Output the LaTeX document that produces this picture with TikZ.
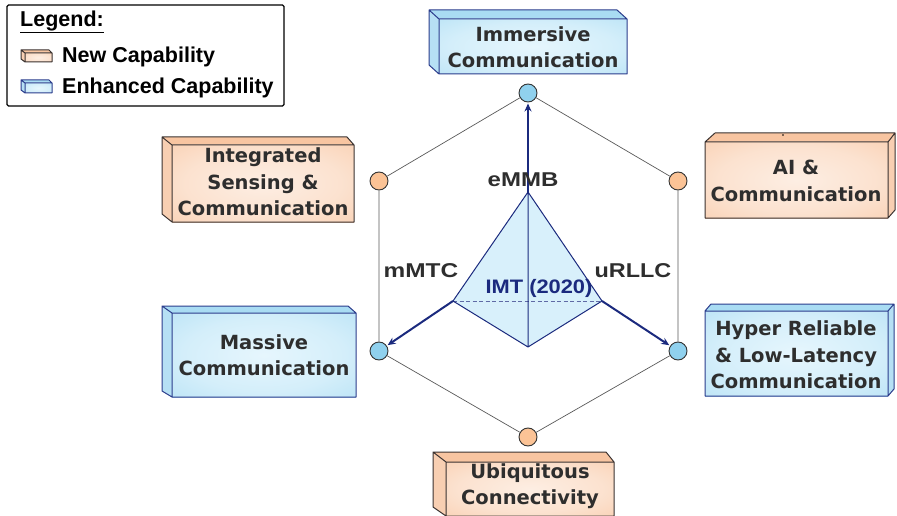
\documentclass[tikz,border=0pt]{standalone}
\usepackage{fontspec}
\usepackage{graphicx}
\setmainfont{Liberation Sans}
\newfontfamily\boxfont{DejaVu Sans}
\usetikzlibrary{arrows.meta}

\definecolor{navy}{HTML}{1B2A7E}
\definecolor{txtgray}{HTML}{2E2E2E}
\definecolor{bluefill}{HTML}{A9DCF3}
\definecolor{bluelight}{HTML}{E6F6FD}
\definecolor{blueside}{HTML}{B6E0F4}
\definecolor{blueedge}{HTML}{2B3C8C}
\definecolor{orangefill}{HTML}{F8C5A1}
\definecolor{orangelight}{HTML}{FDEEE3}
\definecolor{orangeside}{HTML}{F8CFB2}
\definecolor{orangeedge}{HTML}{3A3230}
\definecolor{pyrfill}{HTML}{D8F0FB}
\definecolor{circblue}{HTML}{90D1EE}
\definecolor{circorange}{HTML}{FBC396}

% soft radial glow for the box faces
\pgfdeclareradialshading{blueglow}{\pgfpoint{0bp}{0bp}}{%
  color(0bp)=(bluelight); color(22bp)=(bluelight!70!bluefill);
  color(50bp)=(bluefill); color(75bp)=(bluefill)}
\pgfdeclareradialshading{orangeglow}{\pgfpoint{0bp}{0bp}}{%
  color(0bp)=(orangelight); color(22bp)=(orangelight!70!orangefill);
  color(50bp)=(orangefill); color(75bp)=(orangefill)}

% box with depth towards the upper left: front (x1,y1)-(x2,y2), back (bx1,by1)-(bx2,by2)
\newcommand{\capboxL}[9]{%
  \fill[#1fill] (#2,#3) -- (#6,#7) -- (#8,#7) -- (#4,#3) -- cycle;
  \fill[#1side] (#2,#3) -- (#6,#7) -- (#6,#9) -- (#2,#5) -- cycle;
  \shade[shading=#1glow] (#2,#3) rectangle (#4,#5);
  \draw[#1edge, boxline] (#2,#3) -- (#6,#7) -- (#8,#7) -- (#4,#3)
    (#6,#7) -- (#6,#9) -- (#2,#5) (#2,#3) rectangle (#4,#5);
}
% box with depth towards the upper right
\newcommand{\capboxR}[9]{%
  \fill[#1fill] (#2,#3) -- (#6,#7) -- (#8,#7) -- (#4,#3) -- cycle;
  \fill[#1side] (#4,#3) -- (#8,#7) -- (#8,#9) -- (#4,#5) -- cycle;
  \shade[shading=#1glow] (#2,#3) rectangle (#4,#5);
  \draw[#1edge, boxline] (#2,#3) -- (#6,#7) -- (#8,#7) -- (#4,#3)
    (#8,#7) -- (#8,#9) -- (#4,#5) (#2,#3) rectangle (#4,#5);
}

\tikzset{
  boxline/.style={line width=1pt, line join=round},
  boxtext/.style={text=txtgray, align=center, inner sep=0pt,
    font=\boxfont\bfseries\fontsize{19.5}{26.5}\selectfont},
  lbl/.style={text=txtgray, inner sep=0pt, font=\bfseries\fontsize{20}{22}\selectfont},
  legtext/.style={text=black, inner sep=0pt, anchor=west, font=\bfseries\fontsize{21.5}{24}\selectfont},
  hub/.style={circle, draw=black!80, line width=0.9pt, minimum size=18pt, inner sep=0pt},
  hexline/.style={draw=black!65, line width=0.7pt},
  pushline/.style={draw=navy, line width=2pt, -{Stealth[length=8pt,width=7pt]}, shorten >=1pt},
  pyredge/.style={draw=navy, line width=1pt, line join=round}
}

\begin{document}
\begin{tikzpicture}[x=1pt, y=-1pt]
\useasboundingbox (0,0) rectangle (897,516);

% legend
\draw[line width=1.2pt, rounded corners=1.5pt, fill=white] (7,5) rectangle (284,106);
\node[legtext] (legtitle) at (20,22) {\underline{Legend:}};
\capboxL{orange}{25}{53}{52}{62}{21}{50}{49}{59}
\node[legtext] (legnew) at (62,57) {New Capability};
\capboxL{blue}{25}{83}{52}{93}{21}{80}{49}{90}
\node[legtext] (legenh) at (62,88) {Enhanced Capability};

% capability boxes
\capboxL{blue}{439}{19}{627}{74}{429}{10}{617}{65}
\node[boxtext] (imm) at (533,47) {Immersive\\Communication};

\capboxL{orange}{172}{145}{354}{222}{162}{137}{347}{214}
\node[boxtext] (isac) at (263,182) {Integrated\\Sensing \&\\Communication};

\capboxR{orange}{705}{142}{888}{218}{715}{133}{895}{210}
\node[boxtext] (aic) at (796,181) {AI \&\\Communication};
\fill[black] (783,135) circle (0.9);

\capboxL{blue}{172}{313}{356}{397}{162}{306}{348}{391}
\node[boxtext] (mass) at (264,355) {Massive\\Communication};

\capboxR{blue}{705}{311}{888}{396}{711}{304}{894}{389}
\node[boxtext] (hrllc) at (796,355) {Hyper Reliable\\\& Low-Latency\\Communication};

\capboxL{orange}{446}{462}{614}{516}{433}{452}{606}{507}
\node[boxtext] (ubiq) at (530,486) {Ubiquitous\\Connectivity};

% hexagon of capability hubs
\node[hub, fill=circblue]   (nT)  at (528,93)  {};
\node[hub, fill=circorange] (nUL) at (379,181) {};
\node[hub, fill=circorange] (nUR) at (678,181) {};
\node[hub, fill=circblue]   (nLL) at (379,351) {};
\node[hub, fill=circblue]   (nLR) at (678,351) {};
\node[hub, fill=circorange] (nB)  at (528,437) {};
\draw[hexline] (nT) -- (nUR) -- (nLR) -- (nB) -- (nLL) -- (nUL) -- (nT);

% IMT-2020 pyramid
\coordinate (apex) at (528,192);
\coordinate (pl) at (453,301);
\coordinate (pr) at (602,301);
\coordinate (pb) at (528,347);
\fill[pyrfill] (apex) -- (pl) -- (pb) -- (pr) -- cycle;
\node[lbl, text=navy] (imt) at (539,288) {\scalebox{1.12}[1]{\fontsize{19.5}{22}\selectfont IMT (2020)}};
\draw[navy!70, line width=0.8pt, dash pattern=on 4pt off 2.5pt] (pl) -- (pr);
\draw[pyredge] (apex) -- (pl) -- (pb) -- (pr) -- cycle (apex) -- (pb);

% usage scenario arrows
\draw[pushline] (apex) -- (nT);
\draw[pushline] (pl) -- (nLL);
\draw[pushline] (pr) -- (nLR);

\node[lbl] (embb) at (523,180) {\scalebox{1.2}[1]{eMMB}};
\node[lbl] (mmtc) at (421,271) {\scalebox{1.22}[1]{mMTC}};
\node[lbl] (urllc) at (633,271) {\scalebox{1.17}[1]{uRLLC}};
\end{tikzpicture}
\end{document}
